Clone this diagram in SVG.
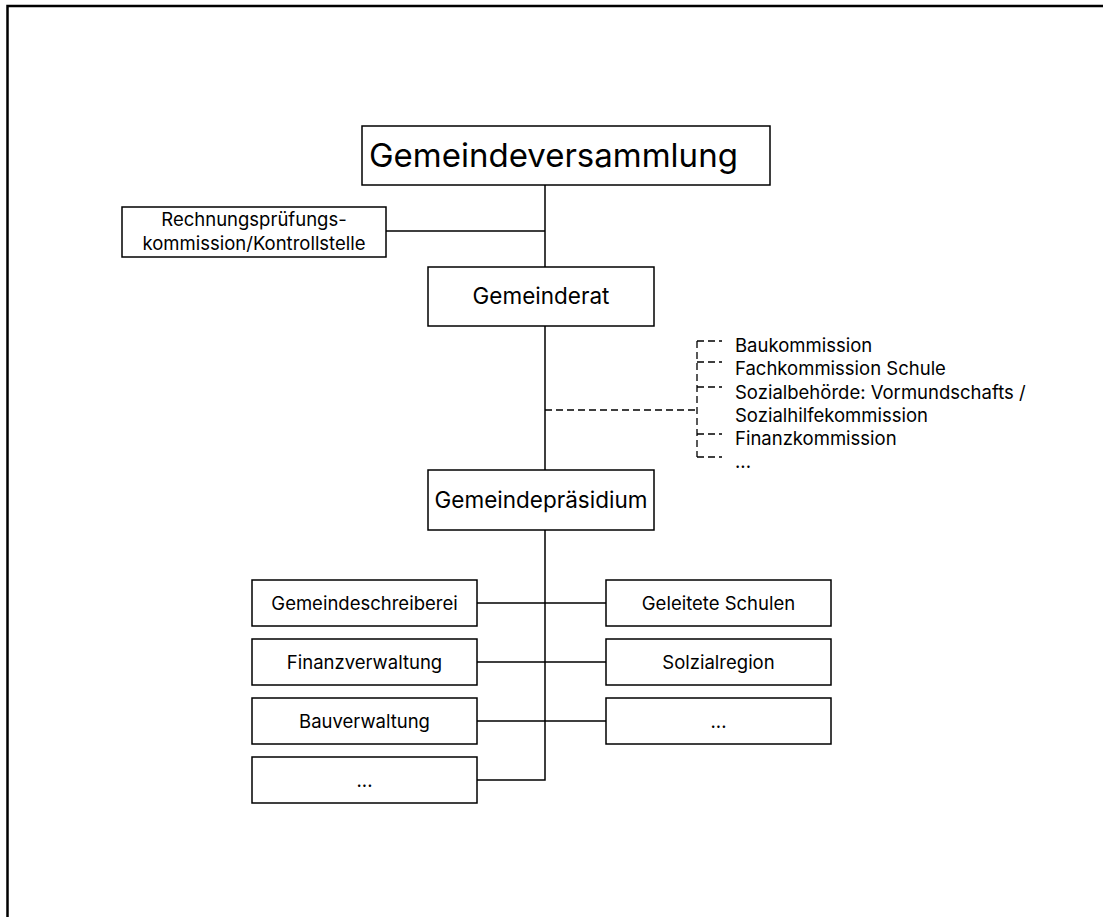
<svg xmlns="http://www.w3.org/2000/svg" width="1103" height="917" viewBox="0 0 1103 917">
<style>
.box{fill:#fff;stroke:#000;stroke-width:1.5}
.ln{fill:none;stroke:#000;stroke-width:1.5}
.dash{fill:none;stroke:#000;stroke-width:1.3;stroke-dasharray:7,4}
text{font-family:Inter,"Open Sans","Liberation Sans",sans-serif;fill:#000}
.c{text-anchor:middle}
.s{font-size:18.5px}
.m{font-size:22.5px}
</style>
<rect width="1103" height="917" fill="#fff"/>
<path d="M7.5 917 V6 H1103" fill="none" stroke="#000" stroke-width="2.5"/>
<g id="connectors">
<path class="ln" d="M545 185 V267 M386 231 H545 M545 326 V470 M545 530 V780 H477 M477 603 H606 M477 662 H606 M477 721 H606"/>
<path class="dash" d="M545 410 H697 M697 341 V457 M697 341 H722 M697 362 H722 M697 387 H722 M697 434 H722 M697 457 H722"/>
</g>
<g id="gemeindeversammlung"><rect class="box" x="362" y="126" width="408" height="59"/><text x="369" y="167" font-size="33">Gemeindeversammlung</text></g>
<g id="rpk"><rect class="box" x="122" y="207" width="264" height="50"/><text class="c s" x="254" y="226">Rechnungsprüfungs-</text><text class="c s" x="254" y="250">kommission/Kontrollstelle</text></g>
<g id="gemeinderat"><rect class="box" x="428" y="267" width="226" height="59"/><text class="c m" x="541" y="304">Gemeinderat</text></g>
<g id="kommissionen">
<text class="s" x="735" y="352">Baukommission</text>
<text class="s" x="735" y="375">Fachkommission Schule</text>
<text class="s" x="735" y="399">Sozialbehörde: Vormundschafts /</text>
<text class="s" x="735" y="422">Sozialhilfekommission</text>
<text class="s" x="735" y="445">Finanzkommission</text>
<text class="s" x="735" y="468">...</text>
</g>
<g id="gemeindepraesidium"><rect class="box" x="428" y="470" width="226" height="60"/><text class="c m" x="541" y="508">Gemeindepräsidium</text></g>
<g id="gemeindeschreiberei"><rect class="box" x="252" y="580" width="225" height="46"/><text class="c s" x="364.5" y="610">Gemeindeschreiberei</text></g>
<g id="finanzverwaltung"><rect class="box" x="252" y="639" width="225" height="46"/><text class="c s" x="364.5" y="669">Finanzverwaltung</text></g>
<g id="bauverwaltung"><rect class="box" x="252" y="698" width="225" height="46"/><text class="c s" x="364.5" y="728">Bauverwaltung</text></g>
<g id="links-weitere"><rect class="box" x="252" y="757" width="225" height="46"/><text class="c s" x="364.5" y="787">...</text></g>
<g id="geleitete-schulen"><rect class="box" x="606" y="580" width="225" height="46"/><text class="c s" x="718.5" y="610">Geleitete Schulen</text></g>
<g id="sozialregion"><rect class="box" x="606" y="639" width="225" height="46"/><text class="c s" x="718.5" y="669">Solzialregion</text></g>
<g id="rechts-weitere"><rect class="box" x="606" y="698" width="225" height="46"/><text class="c s" x="718.5" y="728">...</text></g>
</svg>
